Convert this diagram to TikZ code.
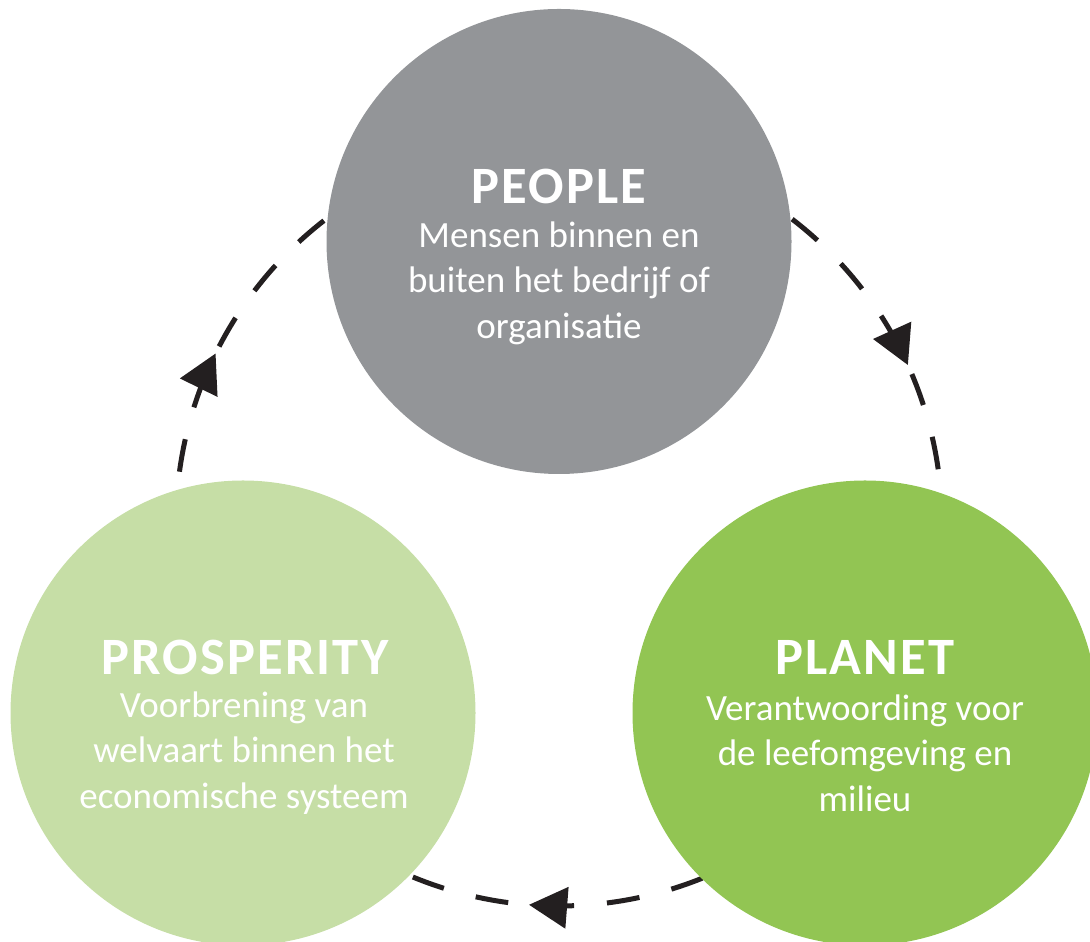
\documentclass[tikz,border=0pt]{standalone}
\usepackage{fontspec}
\setmainfont{Carlito}
\newfontfamily\titlefont[LetterSpace=4]{Carlito}
\usetikzlibrary{arrows.meta,decorations.markings}
\definecolor{peoplegray}{HTML}{939598}
\definecolor{prospgreen}{HTML}{C6DEA6}
\definecolor{planetgreen}{HTML}{92C553}
\definecolor{darkline}{HTML}{231F20}
\tikzset{
  bigcircle/.style={circle, minimum size=465pt, inner sep=0pt},
  titletext/.style={text=white, font=\titlefont\bfseries\fontsize{52.5}{60}\selectfont},
  bodytext/.style={text=white, align=center, font=\fontsize{37}{45.5}\selectfont},
  cyclearc/.style={draw=darkline, line width=5pt, dash pattern=on 33pt off 33pt},
  tipat/.style={postaction={decorate}, decoration={markings, mark=at position #1 with {\arrow{Triangle[length=38pt,width=42pt,line width=0pt]}}}}
}
\begin{document}
\begin{tikzpicture}[x=1pt,y=1pt]
\useasboundingbox (0,0) rectangle (1090,942);
\coordinate (C) at (559,419);
% dashed cycle arcs
\draw[cyclearc, tipat=188pt] ([shift={(52.5:383)}]C) arc[start angle=52.5, end angle=7.9, radius=383];
\draw[cyclearc, tipat=177pt] ([shift={(-68:383)}]C) arc[start angle=-68, end angle=-112.5, radius=383];
\draw[cyclearc, tipat=124pt] ([shift={(172.3:383)}]C) arc[start angle=172.3, end angle=127.3, radius=383];
% circles
\node[bigcircle, fill=peoplegray] (people) at (559,700.5) {};
\node[bigcircle, fill=prospgreen] (prosperity) at (243,229) {};
\node[bigcircle, fill=planetgreen] (planet) at (865,229) {};
% texts
\node[titletext] (peopleT) at (559,756) {PEOPLE};
\node[bodytext] (peopleB) at (559,659) {Mensen binnen en\\buiten het bedrijf of\\organisatie};
\node[titletext] (prospT) at (245,285) {PROSPERITY};
\node[bodytext] (prospB) at (244,189) {Voorbrening van\\welvaart binnen het\\economische systeem};
\node[titletext] (planetT) at (865,285) {PLANET};
\node[bodytext] (planetB) at (865,189) {Verantwoording voor\\de leefomgeving en\\milieu};
\end{tikzpicture}
\end{document}
